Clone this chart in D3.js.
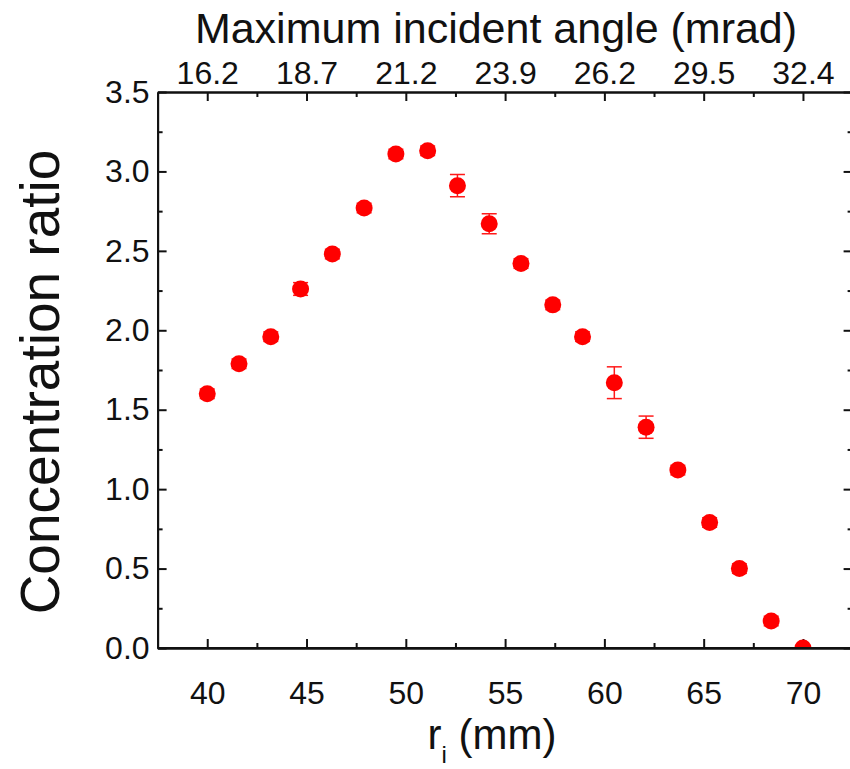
<!DOCTYPE html>
<html>
<head>
<meta charset="utf-8">
<script src="https://cdn.jsdelivr.net/npm/d3@7"></script>
<style>
  body { margin: 0; background: #fff; }
  text { font-family: "Liberation Sans", Arial, sans-serif; fill: #111; }
</style>
</head>
<body>
<script>
// Width and Height
var w = 850;
var h = 769;

// data
var radius = [40, 41.6, 43.2, 44.7, 46.3, 47.9, 49.5, 51.1, 52.6, 54.2,
              55.8, 57.4, 58.9, 60.5, 62.1, 63.7, 65.3, 66.8, 68.4, 70];
var ratio = [1.60, 1.79, 1.96, 2.26, 2.48, 2.77, 3.11, 3.13, 2.91, 2.67,
             2.42, 2.16, 1.96, 1.67, 1.39, 1.12, 0.79, 0.50, 0.17, 0];
var ratioErr = [0.03, 0.03, 0.03, 0.04, 0.03, 0.03, 0.03, 0.03, 0.07, 0.063,
                0.03, 0.03, 0.03, 0.10, 0.07, 0.03, 0.03, 0.03, 0.03, 0];
var xTicks = [40, 45, 50, 55, 60, 65, 70];
var angleLabels = ["16.2", "18.7", "21.2", "23.9", "26.2", "29.5", "32.4"];
var yTicks = [0, 0.5, 1.0, 1.5, 2.0, 2.5, 3.0, 3.5];

// plot frame (px)
var pLeft = 157.6, pRight = 852.6, pTop = 92, pBottom = 648;

var x = d3.scaleLinear().domain([37.5, 72.5]).range([pLeft, pRight]);
var y = d3.scaleLinear().domain([0, 3.5]).range([pBottom, pTop]);

var xMinor = [42.5, 47.5, 52.5, 57.5, 62.5, 67.5];
var yMinor = [0.25, 0.75, 1.25, 1.75, 2.25, 2.75, 3.25];

var svg = d3.select("body")
            .append("svg")
            .attr("width", w)
            .attr("height", h);

svg.append("clipPath")
   .attr("id", "plotclip")
   .append("rect")
   .attr("x", pLeft)
   .attr("y", pTop)
   .attr("width", pRight - pLeft)
   .attr("height", pBottom - pTop);

// bottom axis
svg.append("g")
    .attr("transform", "translate(0," + pBottom + ")")
    .call(d3.axisBottom(x).tickValues(xTicks).tickSizeInner(-9).tickSizeOuter(0).tickPadding(33)
          .tickFormat(d3.format("d")));
svg.append("g")
    .attr("transform", "translate(0," + pBottom + ")")
    .call(d3.axisBottom(x).tickValues(xMinor).tickSizeInner(-5).tickSizeOuter(0).tickFormat(""));

// top axis
svg.append("g")
    .attr("transform", "translate(0," + pTop + ")")
    .call(d3.axisTop(x).tickValues(xTicks).tickSizeInner(-9).tickSizeOuter(0).tickPadding(8)
          .tickFormat(function(d, i) { return angleLabels[i]; }));
svg.append("g")
    .attr("transform", "translate(0," + pTop + ")")
    .call(d3.axisTop(x).tickValues(xMinor).tickSizeInner(-5).tickSizeOuter(0).tickFormat(""));

// left axis
svg.append("g")
    .attr("transform", "translate(" + pLeft + ",0)")
    .call(d3.axisLeft(y).tickValues(yTicks).tickSizeInner(-9).tickSizeOuter(0).tickPadding(8)
          .tickFormat(d3.format(".1f")));
svg.append("g")
    .attr("transform", "translate(" + pLeft + ",0)")
    .call(d3.axisLeft(y).tickValues(yMinor).tickSizeInner(-5).tickSizeOuter(0).tickFormat(""));

// right axis
svg.append("g")
    .attr("transform", "translate(" + pRight + ",0)")
    .call(d3.axisRight(y).tickValues(yTicks).tickSizeInner(-9).tickSizeOuter(0).tickFormat(""));
svg.append("g")
    .attr("transform", "translate(" + pRight + ",0)")
    .call(d3.axisRight(y).tickValues(yMinor).tickSizeInner(-5).tickSizeOuter(0).tickFormat(""));

svg.selectAll(".domain, .tick line")
   .attr("stroke", "#111")
   .attr("stroke-width", 2);

svg.selectAll(".tick text")
   .attr("font-size", "32px")
   .attr("font-family", "Liberation Sans, Arial, sans-serif")
   .attr("fill", "#111");

// error bars
var plot = svg.append("g").attr("clip-path", "url(#plotclip)");

var errs = plot.selectAll("g.err")
    .data(radius.map(function(d, i) { return {r: d, v: ratio[i], e: ratioErr[i]}; }))
    .enter()
    .append("g")
    .attr("class", "err")
    .attr("stroke", "#ff1a1a")
    .attr("stroke-width", 1.5);

errs.append("line")
    .attr("x1", function(d) { return x(d.r); })
    .attr("x2", function(d) { return x(d.r); })
    .attr("y1", function(d) { return y(d.v - d.e); })
    .attr("y2", function(d) { return y(d.v + d.e); });

errs.append("line")
    .attr("x1", function(d) { return x(d.r) - 7.5; })
    .attr("x2", function(d) { return x(d.r) + 7.5; })
    .attr("y1", function(d) { return y(d.v + d.e); })
    .attr("y2", function(d) { return y(d.v + d.e); });

errs.append("line")
    .attr("x1", function(d) { return x(d.r) - 7.5; })
    .attr("x2", function(d) { return x(d.r) + 7.5; })
    .attr("y1", function(d) { return y(d.v - d.e); })
    .attr("y2", function(d) { return y(d.v - d.e); });

// points
plot.selectAll("circle")
    .data(radius)
    .enter()
    .append("circle")
    .attr("cx", function(d) { return x(d); })
    .attr("cy", function(d, i) { return y(ratio[i]); })
    .attr("r", 8.5)
    .attr("fill", "#ff0000");

// redraw bottom axis line over the clipped point
svg.append("line")
   .attr("x1", pLeft).attr("x2", pRight)
   .attr("y1", pBottom).attr("y2", pBottom)
   .attr("stroke", "#111").attr("stroke-width", 2);

// titles
svg.append("text")
   .attr("x", 496)
   .attr("y", 43)
   .attr("text-anchor", "middle")
   .attr("font-size", "43px")
   .text("Maximum incident angle (mrad)");

svg.append("text")
   .attr("transform", "translate(59," + ((pTop + pBottom) / 2 + 12) + ") rotate(-90)")
   .attr("text-anchor", "middle")
   .attr("font-size", "55px")
   .text("Concentration ratio");

var xl = svg.append("text")
   .attr("x", 492)
   .attr("y", 749)
   .attr("text-anchor", "middle")
   .attr("font-size", "42px");
xl.append("tspan").text("r");
xl.append("tspan").attr("font-size", "24px").attr("dy", 14).text("i");
xl.append("tspan").attr("dy", -14).text(" (mm)");
</script>
</body>
</html>
